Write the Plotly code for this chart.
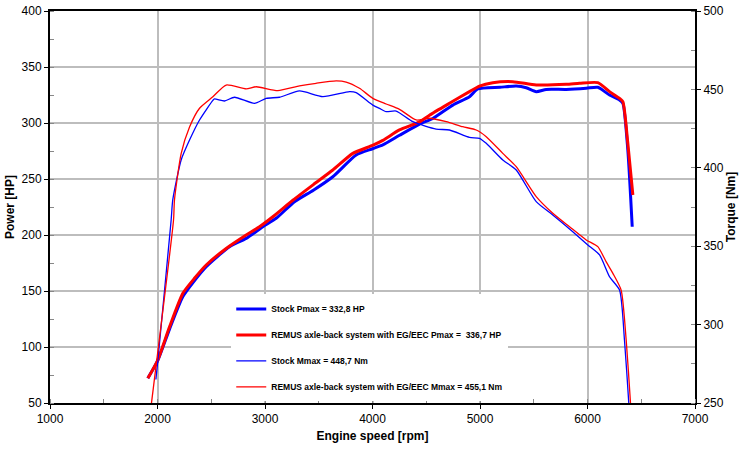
import plotly.graph_objects as go

# Stock power (rpm, HP)
stock_p_rpm = [1910, 2003, 2112, 2236, 2350, 2453, 2560, 2670, 2825, 2980, 3104, 3274, 3450, 3631, 3848,
               4000, 4096, 4251, 4437, 4561, 4747, 4902, 4979, 5186, 5337, 5430, 5523, 5616, 5802, 5988,
               6096, 6205, 6298, 6329, 6375, 6416]
stock_p_hp = [72, 88, 116, 145, 160, 171.7, 181, 189.6, 197, 207.4, 214.9, 229.7, 240, 252, 271.4,
              277, 280.4, 289, 299, 304, 316, 323.5, 330.4, 331.9, 333, 331.5, 328, 330, 330, 331,
              331.9, 325, 320.5, 317.6, 276, 207.4]

# REMUS power (rpm, HP)
remus_p_rpm = [1910, 2003, 2112, 2236, 2350, 2453, 2639, 2825, 2949, 3073, 3259, 3450, 3631, 3817,
               4000, 4096, 4251, 4437, 4530, 4716, 4902, 4995, 5119, 5305, 5523, 5802, 5926, 6096,
               6205, 6298, 6329, 6375, 6422]
remus_p_hp = [72, 88.4, 118, 148, 162, 173.2, 188, 200, 207.4, 216.3, 231, 245, 258, 272.9,
              280, 284.5, 293.8, 301, 307, 317.6, 328, 333, 336, 336.9, 334, 334.5, 335.4, 336,
              328, 322, 319, 282, 235.7]

# Stock torque (rpm, Nm)
stock_m_rpm = [1985, 2003, 2127, 2142, 2220, 2298, 2391, 2515, 2530, 2623, 2716, 2902, 3011, 3135,
               3321, 3538, 3786, 3848, 4003, 4065, 4127, 4220, 4375, 4592, 4716, 4902, 4995, 5058,
               5212, 5337, 5523, 5677, 5863, 6003, 6112, 6205, 6298, 6344, 6384, 6392]
stock_m_nm = [265, 277, 366.7, 379.5, 405, 417.7, 430.5, 443, 443.9, 442.6, 445, 441.1, 444.3, 445,
              449, 445.4, 448.6, 448, 440, 437.9, 435.8, 436.2, 429.4, 424.7, 424.1, 419.4, 418.8, 415.6,
              405, 398.6, 378.4, 369.9, 359.2, 350.8, 344.4, 330.5, 322, 290, 250, 240]

# REMUS torque (rpm, Nm)
remus_m_rpm = [1935, 1944, 2149, 2158, 2220, 2298, 2391, 2515, 2639, 2825, 2918, 3119, 3321, 3476,
               3662, 3755, 3879, 4003, 4127, 4251, 4406, 4530, 4686, 4840, 4965, 5058, 5212, 5337,
               5523, 5677, 5833, 5988, 6096, 6174, 6236, 6313, 6360, 6400, 6408]
remus_m_nm = [245, 250, 366.7, 379.5, 409, 426, 438, 445.3, 452.8, 450.3, 451.7, 449.2, 452.2, 453.9,
              455.4, 454.7, 450.7, 444.3, 440.7, 437.3, 430.5, 431.6, 429.4, 426.2, 424.1, 419.8, 409.2, 400.7,
              381.6, 371, 362.4, 354, 349.7, 340, 332.7, 322, 290, 250, 240]

names = ["Stock Pmax = 332,8 HP",
         "REMUS axle-back system with EG/EEC Pmax =  336,7 HP",
         "Stock Mmax = 448,7 Nm",
         "REMUS axle-back system with EG/EEC Mmax = 455,1 Nm"]

BLUE = "#0000ff"
RED = "#ff0000"

fig = go.Figure()
fig.add_trace(go.Scatter(x=stock_p_rpm, y=stock_p_hp, mode="lines", name=names[0],
                         line=dict(color=BLUE, width=3, shape="spline", smoothing=0.6),
                         legendgroup="a"))
fig.add_trace(go.Scatter(x=remus_p_rpm, y=remus_p_hp, mode="lines", name=names[1],
                         line=dict(color=RED, width=3, shape="spline", smoothing=0.6),
                         legendgroup="b"))
fig.add_trace(go.Scatter(x=stock_m_rpm, y=stock_m_nm, mode="lines", name=names[2], yaxis="y2",
                         line=dict(color=BLUE, width=1.3, shape="spline", smoothing=0.6),
                         legendgroup="c"))
fig.add_trace(go.Scatter(x=remus_m_rpm, y=remus_m_nm, mode="lines", name=names[3], yaxis="y2",
                         line=dict(color=RED, width=1.3, shape="spline", smoothing=0.6),
                         legendgroup="d"))

axis_font = dict(family="Liberation Sans, Arial, sans-serif", size=12, color="#000")
title_font = dict(family="Liberation Sans, Arial, sans-serif", size=12, color="#000", weight="bold")
GRID = "#bdbdbd"

fig.update_layout(
    width=747, height=451,
    margin=dict(l=50, r=52, t=11, b=48, autoexpand=False),
    paper_bgcolor="white", plot_bgcolor="white",
    font=axis_font,
    showlegend=True,
    legend=dict(x=0.281, y=0.277, xanchor="left", yanchor="top",
                bgcolor="white", borderwidth=0,
                font=dict(family="Liberation Sans, Arial, sans-serif", size=8.5, color="#000", weight="bold"),
                tracegroupgap=7, itemwidth=30),
    xaxis=dict(range=[1000, 7000], dtick=1000, showgrid=True, gridcolor=GRID, gridwidth=1.5,
               showline=True, linecolor="black", linewidth=2, mirror=True,
               ticks="outside", ticklen=4, tickcolor="black", automargin=False,
               minor=dict(dtick=500, ticks="inside", ticklen=4, tickcolor="#888", showgrid=False),
               title=dict(text="Engine speed [rpm]", font=title_font, standoff=6),
               tickfont=axis_font, zeroline=False),
    yaxis=dict(range=[50, 400], dtick=50, showgrid=True, gridcolor=GRID, gridwidth=1.5,
               showline=True, linecolor="black", linewidth=2, mirror=True,
               ticks="outside", ticklen=4, tickcolor="black", automargin=False,
               minor=dict(dtick=25, ticks="inside", ticklen=4, tickcolor="#888", showgrid=False),
               title=dict(text="Power [HP]", font=title_font, standoff=4),
               tickfont=axis_font, zeroline=False),
    yaxis2=dict(range=[250, 500], dtick=50, overlaying="y", side="right", showgrid=False,
                showline=True, linecolor="black", linewidth=2, automargin=False,
                ticks="outside", ticklen=4, tickcolor="black",
                minor=dict(dtick=25, ticks="inside", ticklen=4, tickcolor="#888"),
                title=dict(text="Torque [Nm]", font=title_font, standoff=4),
                tickfont=axis_font, zeroline=False),
)

fig.write_html("out.html", config={"displayModeBar": False},
               post_script="document.body.style.margin='0px';")
